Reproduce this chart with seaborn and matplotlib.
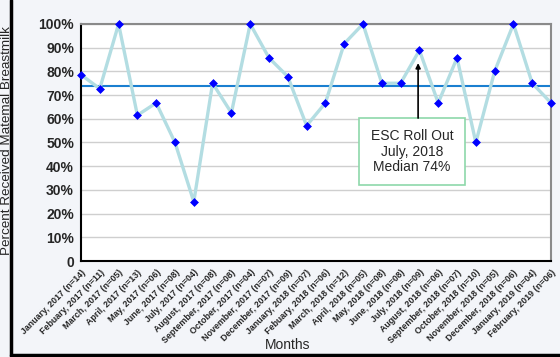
import matplotlib
matplotlib.use("Agg")
import matplotlib.pyplot as plt
from matplotlib.lines import Line2D
from matplotlib.patches import Rectangle
import seaborn as sns
import pandas as pd

months = [
    "January, 2017 (n=14)", "Febuary, 2017 (n=11)", "March, 2017 (n=05)",
    "April, 2017 (n=13)", "May, 2017 (n=06)", "June, 2017 (n=08)",
    "July, 2017 (n=04)", "August, 2017 (n=08)", "September, 2017 (n=08)",
    "October, 2017 (n=04)", "November, 2017 (n=07)", "December, 2017 (n=09)",
    "January, 2018 (n=07)", "Febuary, 2018 (n=06)", "March, 2018 (n=12)",
    "April, 2018 (n=05)", "May, 2018 (n=08)", "June, 2018 (n=08)",
    "July, 2018 (n=09)", "August, 2018 (n=06)", "September, 2018 (n=07)",
    "October, 2018 (n=10)", "November, 2018 (n=05)", "December, 2018 (n=06)",
    "January, 2019 (n=04)", "February, 2019 (n=06)",
]
percent = [
    78.6, 72.7, 100.0, 61.5, 66.7, 50.0, 25.0, 75.0, 62.5, 100.0, 85.7, 77.8,
    57.1, 66.7, 91.7, 100.0, 75.0, 75.0, 88.9, 66.7, 85.7, 50.0, 80.0, 100.0,
    75.0, 66.7,
]
median = 74
yticks = [0, 10, 20, 30, 40, 50, 60, 70, 80, 90, 100]
note = "ESC Roll Out\nJuly, 2018\nMedian 74%"
rollout_month = "July, 2018 (n=09)"

df = pd.DataFrame({"idx": range(len(months)), "month": months, "pct": percent})

sns.set_style("white")
plt.rcParams["font.family"] = ["Liberation Sans", "DejaVu Sans"]

fig = plt.figure(figsize=(5.6, 3.57), dpi=100, facecolor="#f3f5f9")
ax = fig.add_axes([0.1446, 0.2689, 0.8394, 0.6639])
ax.set_facecolor("white")

sns.lineplot(data=df, x="idx", y="pct", ax=ax, color="#b3dde2", lw=2.4, zorder=3)
sns.scatterplot(data=df, x="idx", y="pct", ax=ax, color="#0000ff", marker="D",
                s=16, edgecolor="#0000ff", linewidth=0.5, zorder=4, clip_on=False)
ax.axhline(median, color="#1a7fd0", lw=1.5, zorder=2)

ax.set_xlim(0, len(months) - 1)
ax.set_ylim(0, 100)
ax.set_yticks(yticks)
ax.set_yticklabels(["0" if v == 0 else f"{v}%" for v in yticks],
                   fontsize=10, fontweight="bold")
ax.set_xticks(df["idx"])
ax.set_xticklabels(months, rotation=45, ha="right", rotation_mode="anchor",
                   fontsize=6.4, fontweight="bold")
ax.grid(axis="y", color="#cfcfcf", lw=1, zorder=0)
ax.tick_params(axis="x", length=3, width=0.8, color="#888888", pad=2)
ax.tick_params(axis="y", length=3, width=0.8, color="#888888", pad=2)

for side in ["top", "right"]:
    ax.spines[side].set_color("#8a8a8a")
    ax.spines[side].set_linewidth(1.5)
for side in ["left", "bottom"]:
    ax.spines[side].set_color("black")
    ax.spines[side].set_linewidth(1.5)

ax.set_xlabel("Months", fontsize=10, labelpad=2)
ax.xaxis.set_label_coords(0.44, -0.325)
ax.set_ylabel("Percent Received Matemal Breastmilk", fontsize=9.7)
ax.yaxis.set_label_coords(-0.145, 0.51)

# callout box with arrow pointing at the roll-out month
rx = months.index(rollout_month)
ax.add_patch(Rectangle((14.77, 32.1), 5.66, 28.2, facecolor="white",
                       edgecolor="#8ed8aa", lw=1.2, zorder=5))
ax.text(17.6, 46.2, note, ha="center", va="center", fontsize=10,
        linespacing=1.15, zorder=6)
ax.annotate("", xy=(rx - 0.07, 83.5), xytext=(rx - 0.07, 60.3),
            arrowprops=dict(arrowstyle="-|>", color="black", lw=1.2,
                            mutation_scale=7, shrinkA=0, shrinkB=0),
            zorder=6)

# outer frame lines on the left and bottom of the figure
fig.add_artist(Line2D([11 / 560, 11 / 560], [0.0, 1.0], color="black", lw=2.5,
                      transform=fig.transFigure))
fig.add_artist(Line2D([11 / 560, 1.0], [2 / 357, 2 / 357], color="black", lw=2.5,
                      transform=fig.transFigure))

fig.savefig("out.png", dpi=100, facecolor=fig.get_facecolor())
